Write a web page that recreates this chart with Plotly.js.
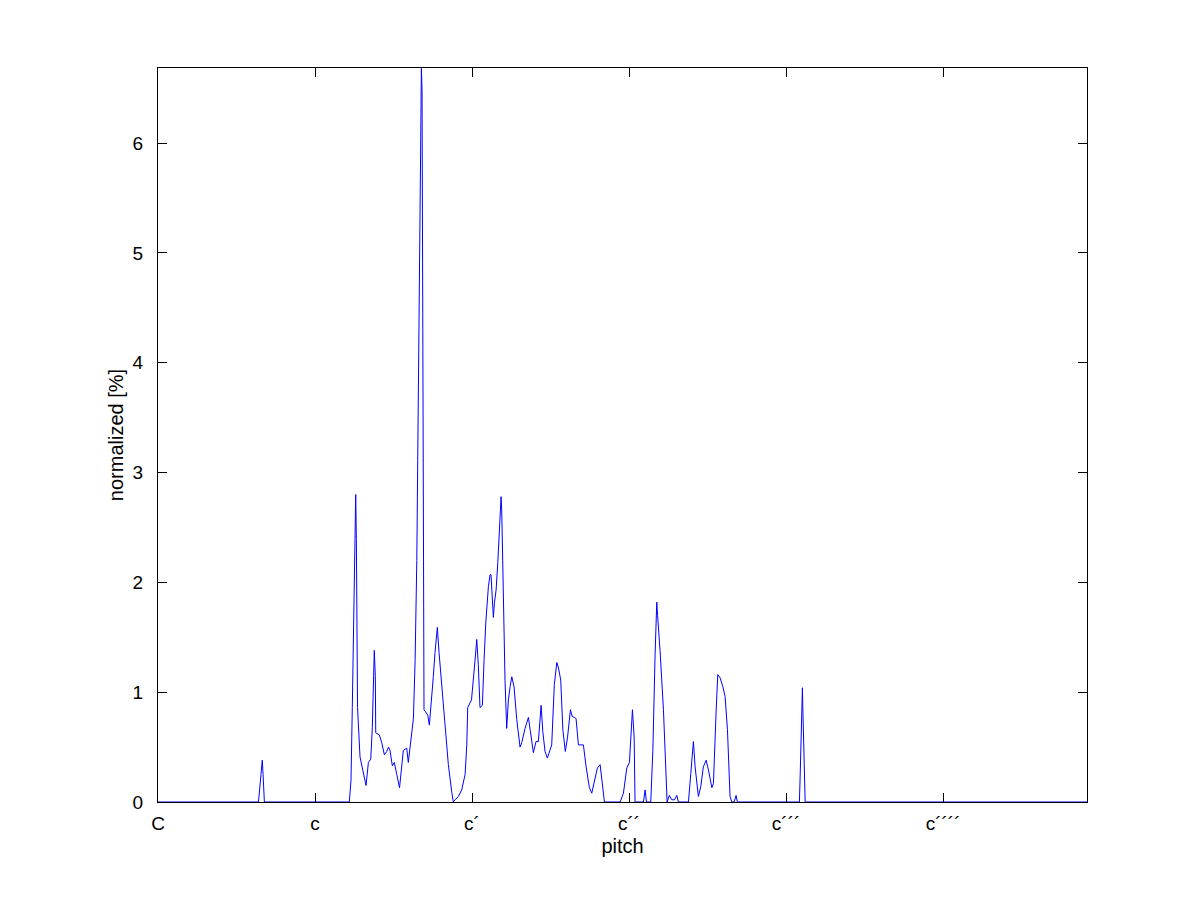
<!DOCTYPE html>
<html>
<head>
<meta charset="utf-8">
<script src="https://cdn.plot.ly/plotly-3.0.1.min.js"></script>
<style>html,body{margin:0;padding:0;background:#fff;}#chart{width:1201px;height:901px;}</style>
</head>
<body>
<div id="chart"></div>
<script>
// pitch in semitones above C (C = 0, c = 12, c´ = 24, ...)
const pitch = [0, 7.68, 7.87, 7.97, 8.03, 8.13, 14.62, 14.75, 14.85, 14.93, 14.98, 15.06, 15.11, 15.16, 15.21, 15.25, 15.44, 15.69, 15.90, 16.08, 16.26, 16.38, 16.46, 16.53, 16.61, 16.64, 16.92, 17.10, 17.30, 17.48, 17.62, 17.73, 17.91, 18.06, 18.25, 18.46, 18.75, 19.01, 19.13, 19.34, 19.52, 19.65, 19.78, 19.85, 19.95, 20.03, 20.08, 20.13, 20.18, 20.23, 20.28, 20.33, 20.46, 20.62, 20.74, 20.92, 21.04, 21.17, 21.35, 21.48, 21.69, 21.94, 22.19, 22.45, 22.57, 22.70, 22.96, 23.21, 23.47, 23.60, 23.67, 23.96, 24.10, 24.23, 24.36, 24.48, 24.61, 24.79, 24.92, 25.05, 25.25, 25.38, 25.45, 25.55, 25.63, 25.71, 25.84, 25.97, 26.09, 26.22, 26.27, 26.39, 26.52, 26.65, 26.78, 26.91, 27.04, 27.21, 27.42, 27.67, 27.80, 28.05, 28.31, 28.44, 28.69, 28.89, 29.07, 29.28, 29.41, 29.58, 29.76, 30.09, 30.29, 30.48, 30.61, 30.78, 30.94, 31.13, 31.30, 31.52, 31.65, 31.82, 31.95, 32.13, 32.51, 32.72, 32.97, 33.15, 33.40, 33.58, 33.79, 33.92, 34.12, 35.32, 35.57, 35.83, 36.03, 36.26, 36.39, 36.46, 37.10, 37.23, 37.33, 37.66, 37.82, 37.99, 38.12, 38.18, 38.37, 38.63, 38.83, 38.91, 39.08, 39.27, 39.47, 39.65, 39.77, 40.54, 40.72, 40.92, 41.05, 41.30, 41.48, 41.68, 41.89, 42.07, 42.33, 42.45, 42.65, 42.78, 42.96, 43.17, 43.34, 43.52, 43.72, 43.85, 44.03, 44.18, 44.28, 49.02, 49.07, 49.13, 49.17, 49.25, 49.28, 49.36, 49.40, 49.46, 71.0];
const normalized = [0, 0, 0.25, 0.38, 0.25, 0, 0, 0.20, 0.86, 1.40, 1.95, 2.52, 2.80, 2.39, 1.66, 0.86, 0.41, 0.26, 0.15, 0.36, 0.39, 0.68, 1.21, 1.38, 1.14, 0.63, 0.61, 0.54, 0.43, 0.46, 0.50, 0.47, 0.33, 0.36, 0.25, 0.13, 0.47, 0.49, 0.36, 0.58, 0.76, 1.29, 2.20, 3.11, 4.39, 5.48, 6.30, 6.68, 6.48, 5.03, 2.31, 0.84, 0.82, 0.79, 0.70, 0.93, 1.14, 1.36, 1.59, 1.36, 1.05, 0.75, 0.34, 0.09, 0, 0.02, 0.05, 0.11, 0.25, 0.52, 0.86, 0.93, 1.09, 1.29, 1.48, 1.25, 0.86, 0.88, 1.29, 1.63, 1.96, 2.07, 2.07, 1.88, 1.68, 1.81, 1.93, 2.18, 2.49, 2.78, 2.66, 1.84, 1.11, 0.67, 0.93, 1.05, 1.14, 1.05, 0.75, 0.50, 0.54, 0.67, 0.77, 0.66, 0.45, 0.55, 0.55, 0.88, 0.64, 0.46, 0.40, 0.52, 1.07, 1.27, 1.22, 1.11, 0.66, 0.46, 0.59, 0.84, 0.78, 0.77, 0.76, 0.52, 0.52, 0.32, 0.13, 0.08, 0.22, 0.31, 0.34, 0.20, 0, 0, 0.08, 0.31, 0.36, 0.84, 0.59, 0, 0, 0.11, 0, 0, 0.47, 1.34, 1.82, 1.70, 1.38, 0.84, 0.32, 0, 0.06, 0.02, 0.02, 0.06, 0, 0, 0.26, 0.55, 0.32, 0.05, 0.14, 0.32, 0.38, 0.29, 0.13, 0.17, 0.81, 1.16, 1.13, 1.05, 0.96, 0.66, 0.05, 0, 0, 0.06, 0, 0, 0.20, 0.52, 0.86, 1.04, 0.86, 0.52, 0.20, 0, 0];
const tickPos = [0, 12, 24, 36, 48, 60];
const tickText = ['C', 'c', 'c\u00B4', 'c\u00B4\u00B4', 'c\u00B4\u00B4\u00B4', 'c\u00B4\u00B4\u00B4\u00B4'];
const yTicks = [0, 1, 2, 3, 4, 5, 6];
const xRange = [0, 71.0];
const yRange = [0, 6.683];

const fontFam = 'Arial, "Liberation Sans", Helvetica, sans-serif';
const axisCommon = {
  showline: true, linecolor: '#000', linewidth: 1, mirror: 'ticks',
  ticks: 'inside', ticklen: 9, tickwidth: 1, tickcolor: '#000',
  showgrid: false, zeroline: false,
  tickfont: {family: fontFam, size: 19, color: '#000'}
};
const layout = {
  width: 1201, height: 901,
  paper_bgcolor: '#fff', plot_bgcolor: '#fff',
  margin: {l: 158, r: 114, t: 68, b: 99, pad: 0},
  showlegend: false,
  xaxis: Object.assign({}, axisCommon, {
    range: xRange, tickmode: 'array', tickvals: tickPos, ticktext: tickText,
    ticklabelstandoff: 4,
    title: {text: 'pitch', font: {family: fontFam, size: 20, color: '#000'}, standoff: 6}
  }),
  yaxis: Object.assign({}, axisCommon, {
    range: yRange, tickmode: 'array', tickvals: yTicks, ticktext: yTicks.map(String),
    ticklabelstandoff: 10,
    title: {text: 'normalized [%]', font: {family: fontFam, size: 20, color: '#000'}, standoff: 3}
  })
};
const trace = {
  x: pitch, y: normalized, type: 'scatter', mode: 'lines',
  line: {color: '#0000ff', width: 1}, hoverinfo: 'none'
};
Plotly.newPlot('chart', [trace], layout, {staticPlot: true, displayModeBar: false});
</script>
</body>
</html>
